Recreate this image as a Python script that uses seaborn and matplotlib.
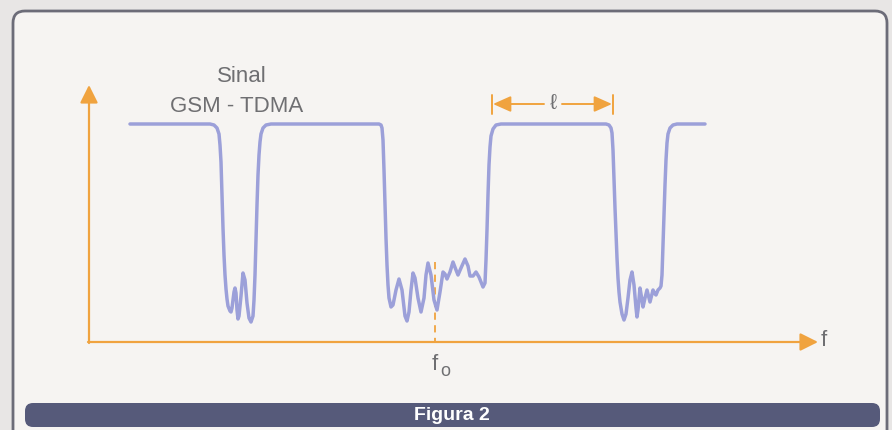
import matplotlib
matplotlib.use("Agg")
import matplotlib.pyplot as plt
from matplotlib.patches import FancyBboxPatch
import seaborn as sns
import pandas as pd

# ---- data (pixel coordinates: frequency x, level y) ----
signal_points = [
    (130, 124), (210, 124),
    # dip 1
    (214, 125), (217, 128), (219, 134), (220, 145), (221, 162), (222, 195), (223, 228), (224, 255),
    (225, 275), (226, 289), (227, 299), (228, 306), (230, 311), (231, 312), (232, 308), (234, 292),
    (235, 288), (236, 293), (237, 310), (238, 319), (239, 316), (241, 296), (243, 273), (245, 280),
    (247, 303), (249, 318), (251, 322), (253, 316), (254, 300), (255, 275), (256, 240), (257, 205),
    (258, 175), (259, 155), (260, 142), (261, 134), (263, 128), (266, 125), (271, 124),
    # dip 2 (around f0)
    (379, 124), (381, 125), (382, 128), (383, 140), (384, 170), (385, 205), (386, 238), (387, 265),
    (388, 285), (389, 298), (391, 307), (393, 305), (396, 290), (399, 279), (402, 290), (405, 316),
    (407, 321), (409, 312), (411, 290), (413, 273), (415, 278), (418, 298), (421, 312), (424, 298),
    (426, 275), (428, 263), (431, 275), (434, 300), (437, 310), (440, 292), (443, 272), (445, 274),
    (447, 279), (450, 272), (453, 262), (456, 270), (458, 275), (461, 268), (465, 259), (468, 266),
    (470, 276), (473, 276), (476, 272), (479, 277), (483, 287), (485, 283), (486, 260), (487, 230),
    (488, 195), (489, 165), (490, 147), (491, 136), (493, 129), (496, 125), (501, 124),
    # dip 3
    (606, 124), (609, 125), (611, 128), (612, 133), (613, 150), (614, 180), (615, 208), (616, 234),
    (617, 258), (618, 278), (619, 292), (620, 302), (622, 314), (624, 320), (626, 314), (628, 298),
    (630, 280), (632, 272), (634, 285), (636, 308), (637, 317), (638, 310), (640, 288), (642, 300),
    (643, 307), (645, 298), (647, 290), (649, 298), (650, 302), (652, 294), (653, 290), (655, 294),
    (656, 295), (658, 290), (660, 288), (661, 286), (662, 275), (663, 245), (664, 215), (665, 185),
    (666, 160), (667, 143), (668, 134), (670, 128), (673, 125), (677, 124), (705, 124),
]
signal_x = [p[0] for p in signal_points]
signal_y = [p[1] for p in signal_points]

title_lines = ["Sinal", "GSM - TDMA"]
caption = "Figura 2"
x_label = "f"
center_label = "f"
center_sub = "o"
width_label = "\u2113"

W, H = 892, 430
ORANGE = "#f0a33f"
LINE = "#9ca0d9"
GRAY = "#6f6f72"

sns.set_theme(style="white")
plt.rcParams["font.family"] = ["Liberation Sans", "DejaVu Sans"]

fig = plt.figure(figsize=(W / 100, H / 100), dpi=100, facecolor="#e8e6e5")
ax = fig.add_axes([0, 0, 1, 1])
ax.set_xlim(0, W)
ax.set_ylim(H, 0)
ax.axis("off")
ax.set_facecolor("none")

# frame
frame = FancyBboxPatch((13, 11), 874, 440, boxstyle="round,pad=0,rounding_size=12",
                       facecolor="#f6f4f2", edgecolor="#6c6c78", linewidth=2.0, zorder=0)
ax.add_patch(frame)

# caption bar
bar = FancyBboxPatch((25, 403), 855, 24, boxstyle="round,pad=0,rounding_size=8",
                     facecolor="#565a7a", edgecolor="none", zorder=1)
ax.add_patch(bar)
ax.text(452, 415, caption, color="white", fontsize=14, fontweight="bold",
        ha="center", va="center", zorder=2)

# axes arrows
arrow_kw = dict(arrowstyle="-|>,head_length=0.9,head_width=0.45", color=ORANGE, lw=1.6,
                shrinkA=0, shrinkB=0)
ax.annotate("", xy=(89, 85), xytext=(89, 343), arrowprops=arrow_kw, zorder=3)
ax.annotate("", xy=(818, 342), xytext=(88, 342), arrowprops=arrow_kw, zorder=3)
ax.text(821, 341, x_label, color=GRAY, fontsize=16, ha="left", va="center")

# center frequency dashed line
ax.plot([435, 435], [262, 342], color=ORANGE, lw=1.3, ls=(0, (4, 3)), zorder=3)
ax.text(432, 364, center_label, color=GRAY, fontsize=16, ha="left", va="center")
ax.text(440, 372, center_sub, color=GRAY, fontsize=13, ha="left", va="center")

# width dimension
dim_kw = dict(arrowstyle="-|>,head_length=0.9,head_width=0.4", color=ORANGE, lw=1.4,
              shrinkA=0, shrinkB=0)
ax.annotate("", xy=(493, 104), xytext=(544, 104), arrowprops=dim_kw)
ax.annotate("", xy=(612, 104), xytext=(562, 104), arrowprops=dim_kw)
ax.plot([492, 492], [95, 114], color=ORANGE, lw=1.4)
ax.plot([613, 613], [95, 114], color=ORANGE, lw=1.4)
ax.text(553, 103, width_label, color=GRAY, fontsize=16, ha="center", va="center")

# title
ax.text(242, 76, title_lines[0], color=GRAY, fontsize=16, ha="center", va="center")
ax.text(237, 106, title_lines[1], color=GRAY, fontsize=16, ha="center", va="center")

# signal
df = pd.DataFrame({"x": signal_x, "y": signal_y})
sns.lineplot(data=df, x="x", y="y", sort=False, estimator=None, color=LINE,
             linewidth=2.5, ax=ax, zorder=4)
ax.set_xlim(0, W)
ax.set_ylim(H, 0)
ax.axis("off")

fig.savefig("out.png", dpi=100, facecolor=fig.get_facecolor())
